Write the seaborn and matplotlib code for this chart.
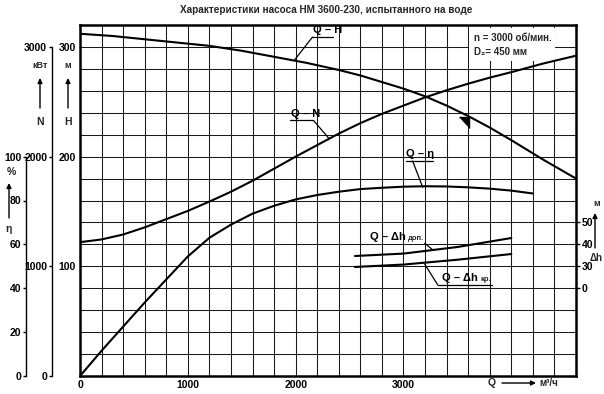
import matplotlib
matplotlib.use("Agg")
import matplotlib.pyplot as plt
from matplotlib import font_manager as fm
import numpy as np
import pandas as pd
import seaborn as sns

# --- data ---
TITLE = "Характеристики насоса НМ 3600-230, испытанного на воде"

q_h = [0, 300, 600, 900, 1200, 1500, 1800, 2100, 2400, 2600, 2800, 3000, 3200, 3400,
       3600, 3800, 4000, 4300, 4600]
h_vals = [312, 310, 307, 304, 301, 296.5, 291, 285.5, 279, 274, 268, 262, 255, 246.5,
          237, 226.5, 215, 197, 180]

q_n = [0, 200, 400, 600, 800, 1000, 1200, 1400, 1600, 1800, 2000, 2200, 2400, 2600,
       2800, 3000, 3200, 3400, 3600, 3800, 4000, 4300, 4600]
n_vals = [1220, 1245, 1290, 1355, 1430, 1505, 1590, 1680, 1780, 1890, 2000, 2105, 2210,
          2305, 2390, 2465, 2540, 2605, 2665, 2720, 2770, 2850, 2920]

q_eta = [0, 200, 400, 600, 800, 1000, 1200, 1400, 1600, 1800, 2000, 2200, 2400, 2600,
         2800, 3000, 3200, 3400, 3600, 3800, 4000, 4200]
eta_vals = [0, 11.5, 22.5, 33.5, 44, 54.5, 63, 69, 74, 77.6, 80.5, 82.5, 84, 85.2,
            85.8, 86.3, 86.5, 86.4, 86, 85.4, 84.5, 83.2]

q_dh = [2550, 3000, 3500, 4000]
dh_dop = [34.7, 35.8, 38.8, 42.9]
dh_kr = [29.7, 30.8, 33.0, 35.6]

x_ticks = [0, 1000, 2000, 3000]
h_ticks = [100, 200, 300]
n_ticks = [0, 1000, 2000, 3000]
eta_ticks = [0, 20, 40, 60, 80, 100]
dh_ticks = [20, 30, 40, 50]          # broken scale: lowest mark is labelled 0
dh_tick_labels = ["0", "30", "40", "50"]

sns.set_theme(style="white")
names = {f.name for f in fm.fontManager.ttflist}
base = "Liberation Sans Narrow" if "Liberation Sans Narrow" in names else "Liberation Sans"
plt.rcParams["font.family"] = [base, "DejaVu Sans"]
plt.rcParams["font.weight"] = "bold"

W, H = 604, 394
fig = plt.figure(figsize=(W / 100, H / 100), dpi=100)
fig.patch.set_facecolor("white")
L, R, T, B = 80, 576, 25, 376
ax = fig.add_axes([L / W, (H - B) / H, (R - L) / W, (B - T) / H])

def fx(px):
    return px / W

def fy(py):
    return (H - py) / H

# main axis: Q / H with square grid
ax.set_xlim(0, 4600)
ax.set_ylim(0, 320)
ax.set_xticks(x_ticks)
ax.set_xticks(np.arange(0, 4601, 200), minor=True)
ax.set_yticks(h_ticks)
ax.set_yticks(np.arange(0, 321, 20), minor=True)
ax.grid(which="both", color="#1a1a1a", lw=0.75)
ax.tick_params(which="both", length=0, labelsize=7.5, colors="black")
ax.tick_params(axis="x", pad=3)
ax.tick_params(axis="y", pad=3)
for s in ax.spines.values():
    s.set_visible(True)
    s.set_color("black")
    s.set_linewidth(1.8)

# N axis (left, offset)
ax_n = ax.twinx()
ax_n.set_ylim(0, 3200)
ax_n.yaxis.set_ticks_position("left")
for k in ["top", "right", "bottom"]:
    ax_n.spines[k].set_visible(False)
ax_n.spines["left"].set_position(("axes", (52 - L) / (R - L)))
ax_n.spines["left"].set_bounds(0, 3000)
ax_n.spines["left"].set_linewidth(1.0)
ax_n.spines["left"].set_color("black")
ax_n.set_yticks(n_ticks)
ax_n.tick_params(axis="y", length=2.5, width=1, pad=1, labelsize=7.5, colors="black")

# eta axis (far left)
ax_e = ax.twinx()
ax_e.set_ylim(0, 160)
ax_e.yaxis.set_ticks_position("left")
for k in ["top", "right", "bottom"]:
    ax_e.spines[k].set_visible(False)
ax_e.spines["left"].set_position(("axes", (26 - L) / (R - L)))
ax_e.spines["left"].set_bounds(0, 100)
ax_e.spines["left"].set_linewidth(1.0)
ax_e.spines["left"].set_color("black")
ax_e.set_yticks(eta_ticks)
ax_e.tick_params(axis="y", length=2.5, width=1, pad=1, labelsize=7.5, colors="black")

# delta h axis (right)
ax_d = ax.twinx()
ax_d.set_ylim(-20, 140)
for k in ["top", "left", "bottom", "right"]:
    ax_d.spines[k].set_visible(False)
ax_d.set_yticks(dh_ticks)
ax_d.set_yticklabels(dh_tick_labels)
ax_d.tick_params(axis="y", length=3, width=1, pad=1, labelsize=7.5, colors="black")

lw = 1.5
sns.lineplot(data=pd.DataFrame({"Q": q_h, "H": h_vals}), x="Q", y="H", ax=ax,
             color="black", lw=lw, zorder=4)
sns.lineplot(data=pd.DataFrame({"Q": q_n, "N": n_vals}), x="Q", y="N", ax=ax_n,
             color="black", lw=lw)
sns.lineplot(data=pd.DataFrame({"Q": q_eta, "eta": eta_vals}), x="Q", y="eta", ax=ax_e,
             color="black", lw=lw)
sns.lineplot(data=pd.DataFrame({"Q": q_dh, "dh": dh_dop}), x="Q", y="dh", ax=ax_d,
             color="black", lw=lw)
sns.lineplot(data=pd.DataFrame({"Q": q_dh, "dh": dh_kr}), x="Q", y="dh", ax=ax_d,
             color="black", lw=lw)
for a in (ax, ax_n, ax_e, ax_d):
    a.set_xlabel("")
    a.set_ylabel("")
    a.set_xlim(0, 4600)

# curve labels with underline and leader (positions in Q / H coordinates)
lab_kw = dict(fontsize=8, fontweight="bold", color="black", zorder=6)
seg_kw = dict(color="black", lw=0.9, zorder=6)

ax.text(2160, 310.5, "Q – H", va="bottom", **lab_kw)
ax.plot([2156, 2342], [309, 309], **seg_kw)
ax.plot([2156, 1989], [309, 288], **seg_kw)

ax.text(1955, 234.5, "Q – N", va="bottom", **lab_kw)
ax.plot([1951, 2165], [233, 233], **seg_kw)
ax.plot([2165, 2314], [233, 216], **seg_kw)

ax.text(3025, 197.5, "Q – η", va="bottom", **lab_kw)
ax.plot([3020, 3271], [196, 196], **seg_kw)
ax.plot([3085, 3178], [196, 172], **seg_kw)

t1 = ax.text(2686, 122, "Q – Δh", va="bottom", **lab_kw)
ax.annotate("доп.", xy=(1, 0), xycoords=t1, xytext=(1.5, 0), textcoords="offset points",
            va="bottom", ha="left", fontsize=5.5, fontweight="bold", zorder=6)
ax.plot([3197, 3271], [121, 115], **seg_kw)

t2 = ax.text(3360, 84.5, "Q – Δh", va="bottom", **lab_kw)
ax.annotate("кр.", xy=(1, 0), xycoords=t2, xytext=(1.5, 0), textcoords="offset points",
            va="bottom", ha="left", fontsize=5.5, fontweight="bold", zorder=6)
ax.plot([3318, 3819], [83, 83], **seg_kw)
ax.plot([3318, 3197], [83, 102], **seg_kw)

# direction mark on Q-H
ax.plot([3560], [232], marker=[(-1, 1), (1, 1), (1, -1.2)], markersize=9,
        color="black", zorder=6)

# pump data box
ax.text(3650, 313, "n = 3000 об/мин.\nD₂= 450 мм", fontsize=7, fontweight="bold",
        va="top", ha="left", linespacing=1.55, zorder=5,
        bbox=dict(facecolor="white", edgecolor="none", pad=3))

# title
fig.text(fx(326), fy(10), TITLE, ha="center", va="center", fontsize=7.2, fontweight="bold")

# axis names with arrows
txt_kw = dict(ha="center", va="center", fontsize=7.5, fontweight="bold")
arr_kw = dict(arrowstyle="-|>", lw=1.0, color="black", shrinkA=0, shrinkB=0,
              mutation_scale=7)

def arrow(x0, y0, x1, y1):
    fig.add_artist(matplotlib.patches.FancyArrowPatch(
        (fx(x0), fy(y0)), (fx(x1), fy(y1)), transform=fig.transFigure, **arr_kw))

fig.text(fx(40), fy(66), "кВт", fontsize=6.5, ha="center", va="center", fontweight="bold")
arrow(40, 108, 40, 78)
fig.text(fx(40), fy(122), "N", **txt_kw)

fig.text(fx(68), fy(66), "м", fontsize=6.5, ha="center", va="center", fontweight="bold")
arrow(68, 108, 68, 78)
fig.text(fx(68), fy(122), "H", **txt_kw)

fig.text(fx(11), fy(172), "%", **txt_kw)
arrow(9, 218, 9, 183)
fig.text(fx(9), fy(229), "η", **txt_kw)

fig.text(fx(597), fy(203), "м", fontsize=6.5, ha="center", va="center", fontweight="bold")
arrow(595, 248, 595, 213)
fig.text(fx(596), fy(258), "Δh", ha="center", va="center", fontsize=7, fontweight="bold")

fig.text(fx(492), fy(383), "Q", **txt_kw)
arrow(502, 383, 536, 383)
fig.text(fx(549), fy(383), "м³/ч", fontsize=7, ha="center", va="center", fontweight="bold")

fig.savefig("out.png", dpi=100)
